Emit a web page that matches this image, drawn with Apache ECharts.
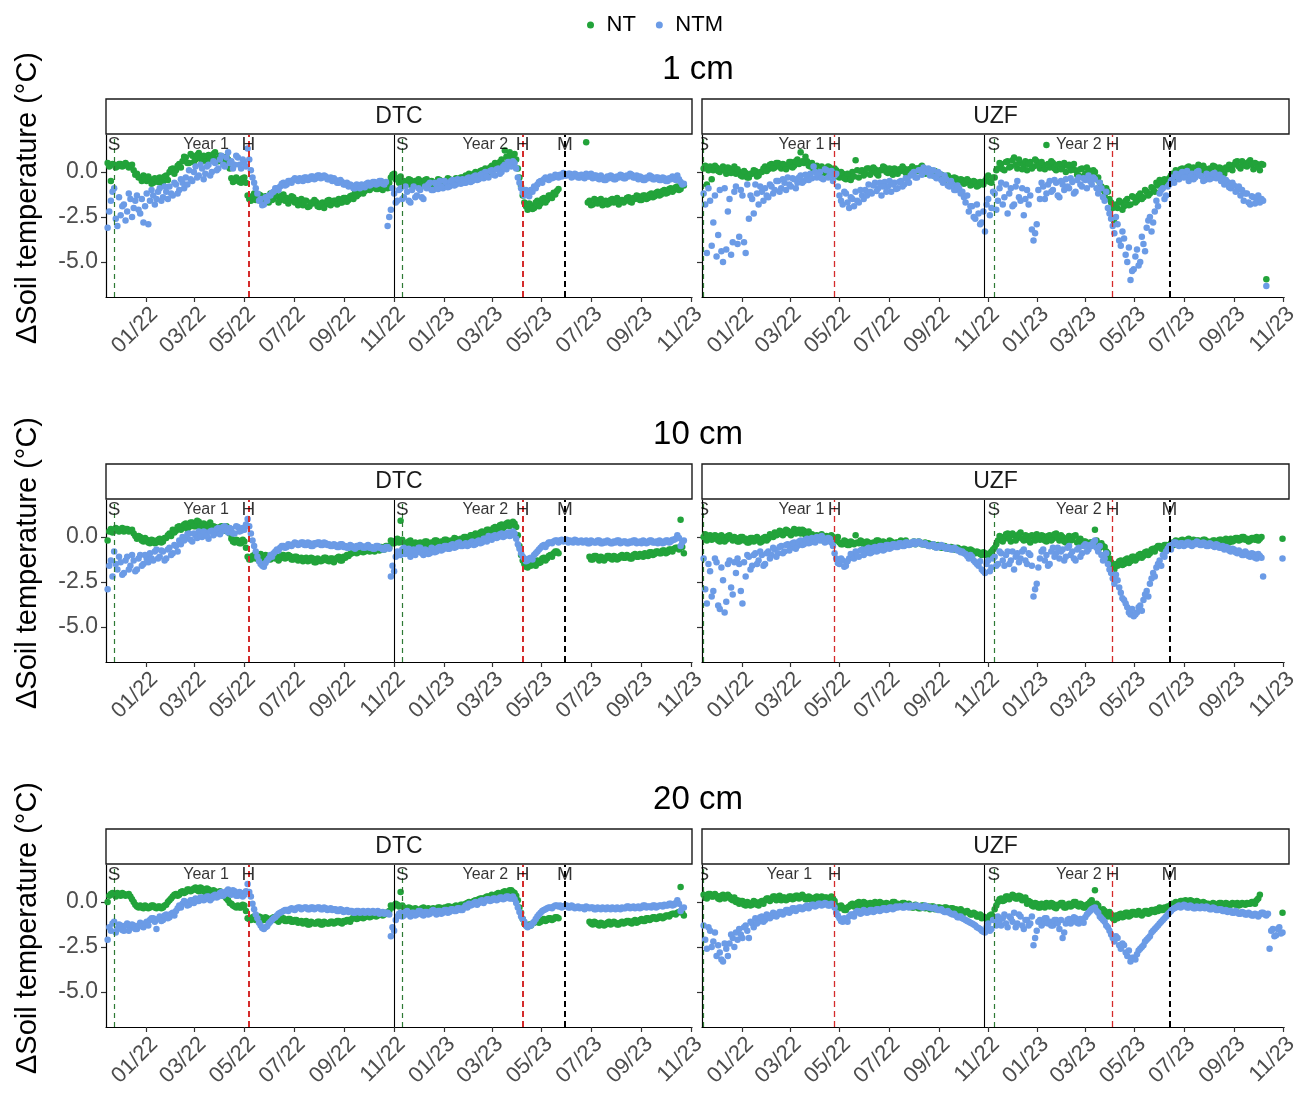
<!DOCTYPE html>
<html>
<head>
<meta charset="utf-8">
<script src="https://cdn.jsdelivr.net/npm/echarts@6/dist/echarts.min.js"></script>
<style>
html,body{margin:0;padding:0;background:#fff;}
#chart{width:1301px;height:1104px;}
</style>
</head>
<body>
<div id="chart"></div>
<script>
// ---------------- DATA ----------------
// Readings every 2 days from 2021-11-14: arrays "A" hold days 0,4,8,... ; arrays "b" hold days 2,6,10,...
const sampleStart = '2021-11-14';
const sampleStepDays = 4;
const depths = ['1 cm', '10 cm', '20 cm'];
const sites = ['DTC', 'UZF'];
const tickMonths = ['2022-01-01','2022-03-01','2022-05-01','2022-07-01','2022-09-01','2022-11-01',
                    '2023-01-01','2023-03-01','2023-05-01','2023-07-01','2023-09-01','2023-11-01'];
const yTicks = [-5.0, -2.5, 0.0];

// DTC 1 cm
const dtc1NT = [0.5,-0.5,0.4,0.3,0.45,0.35,0.4,0.3,0.1,-0.1,
-0.3,-0.2,-0.5,-0.4,-0.6,-0.45,-0.3,-0.55,-0.2,0.0,
0.2,0.1,0.45,0.6,0.8,0.5,0.9,0.7,1.05,0.6,
0.85,0.95,0.7,1.1,0.6,0.8,0.5,0.7,-0.35,-0.5,
-0.4,-0.6,-0.3,-1.3,-1.6,-1.2,-1.45,-1.3,-1.6,-1.4,
-1.2,-1.5,-1.35,-1.55,-1.25,-1.45,-1.6,-1.4,-1.55,-1.7,
-1.85,-1.6,-1.9,-1.75,-1.65,-1.95,-1.7,-1.8,-1.55,-1.75,
-1.6,-1.5,-1.7,-1.45,-1.55,-1.3,-1.15,-1.25,-0.95,-1.05,
-0.8,-0.9,-0.75,-0.95,-0.8,-0.7,-0.9,-0.3,-0.1,-0.35,
-0.25,-0.5,-0.7,-0.45,-0.6,-0.75,-0.5,-0.65,-0.4,-0.7,
-0.55,-0.6,-0.45,-0.7,-0.5,-0.4,-0.6,-0.35,-0.5,-0.3,
-0.2,-0.1,-0.35,0.0,-0.15,0.1,0.2,0.0,0.35,0.5,
0.3,0.7,1.2,0.6,0.9,1.0,0.2,-0.8,-1.7,-2.1,
-1.85,-2.0,-1.6,-1.75,-1.45,-1.55,-1.3,-1.15,-1.05,null,
null,null,null,null,null,null,null,1.65,-1.6,-1.8,
-1.55,-1.7,-1.85,-1.6,-1.75,-1.5,-1.65,-1.8,-1.55,-1.6,
-1.4,-1.7,-1.5,-1.35,-1.55,-1.3,-1.45,-1.2,-1.35,-1.1,
-1.25,-1.0,-1.15,-0.9,-1.0,-0.8,-0.95,-0.75,null,null];
const dtc1NTb = [0.3,0.45,0.25,0.45,0.3,0.5,0.25,0.4,-0.15,-0.3,
-0.5,-0.35,-0.25,-0.65,-0.35,-0.55,-0.6,-0.25,-0.45,0.15,
-0.1,0.35,0.25,0.85,0.5,1.0,0.55,0.95,0.75,0.9,
0.6,0.75,1.0,0.75,0.9,0.55,0.85,0.2,-0.55,-0.3,
-0.55,-0.35,-0.6,-1.5,-1.35,-1.55,-1.25,-1.65,-1.35,-1.7,
-1.55,-1.3,-1.7,-1.3,-1.6,-1.75,-1.35,-1.7,-1.85,-1.5,
-1.6,-1.95,-1.7,-1.55,-1.9,-1.75,-2.0,-1.6,-1.85,-1.6,
-1.8,-1.7,-1.45,-1.65,-1.35,-1.5,-1.35,-1.05,-1.2,-0.85,
-1.0,-0.75,-0.95,-0.7,-1.0,-0.85,-0.6,-0.15,-0.4,-0.6,
-0.5,-0.65,-0.4,-0.75,-0.5,-0.4,-0.7,-0.45,-0.65,-0.5,
-0.7,-0.4,-0.65,-0.5,-0.35,-0.6,-0.45,-0.55,-0.3,-0.45,
-0.35,-0.25,-0.1,-0.3,0.05,-0.1,0.05,0.25,0.2,0.3,
0.55,0.45,0.85,1.1,0.65,0.7,-0.3,-1.3,-1.9,-1.75,
-2.05,-1.7,-1.9,-1.5,-1.7,-1.3,-1.45,-1.25,-0.95,null,
null,null,null,null,null,null,null,-1.7,-1.85,-1.5,
-1.75,-1.5,-1.65,-1.8,-1.55,-1.7,-1.45,-1.6,-1.7,-1.45,
-1.65,-1.45,-1.3,-1.55,-1.3,-1.5,-1.25,-1.4,-1.15,-1.3,
-1.05,-1.2,-0.95,-1.1,-0.85,-1.0,-0.7,null,null,null];
const dtc1NTM = [-3.1,-1.6,-0.9,-3.0,-2.4,-1.8,-2.2,-1.5,-2.0,-1.3,
-2.3,-2.8,-1.2,-1.6,-1.3,-1.5,-0.9,-1.4,-1.1,-0.8,
-1.3,-0.7,-1.0,-0.6,-0.3,0.1,-0.5,0.3,-0.2,0.2,
-0.1,0.4,0.0,0.5,0.2,0.9,0.3,1.1,0.6,0.4,
0.8,0.2,0.5,1.3,0.1,-0.6,-1.2,-1.5,-1.8,-1.6,
-1.3,-1.1,-0.9,-0.8,-0.6,-0.7,-0.5,-0.45,-0.4,-0.35,
-0.5,-0.3,-0.4,-0.25,-0.35,-0.2,-0.3,-0.25,-0.4,-0.5,
-0.45,-0.6,-0.55,-0.7,-0.8,-0.75,-0.9,-0.8,-0.7,-0.85,
-0.6,-0.7,-0.55,-0.65,-0.5,-0.7,-3.0,-2.1,-1.2,-1.6,
-0.9,-1.4,-1.1,-1.7,-0.8,-1.3,-1.0,-1.5,-0.9,-0.6,
-1.0,-0.7,-0.5,-0.9,-0.6,-0.8,-0.45,-0.7,-0.5,-0.4,
-0.6,-0.3,-0.5,-0.2,-0.4,-0.1,0.0,-0.3,0.1,-0.2,
0.2,0.0,0.4,0.55,0.3,0.5,-0.3,-0.9,-1.3,-1.2,
-1.0,-0.8,-0.7,-0.5,-0.4,-0.35,-0.25,-0.3,-0.2,-0.15,
-0.05,-0.2,-0.1,-0.25,-0.15,-0.3,-0.2,-0.1,-0.25,-0.35,
-0.2,-0.4,-0.3,-0.45,-0.35,-0.25,-0.4,-0.3,-0.2,-0.35,
-0.25,-0.15,-0.3,-0.4,-0.3,-0.45,-0.35,-0.25,-0.4,-0.3,
-0.45,-0.35,-0.5,-0.4,-0.3,-0.2,-0.55,-0.65,null,null];
const dtc1NTMb = [-2.2,-1.1,-2.6,-1.4,-1.9,-2.7,-1.2,-2.5,-1.6,-2.1,
-1.5,-1.9,-2.9,-1.0,-1.8,-1.1,-1.6,-0.8,-1.5,-1.2,
-0.6,-1.2,-0.4,-0.9,-0.7,-0.4,0.0,-0.3,0.4,-0.4,
0.3,-0.2,0.6,0.1,0.7,0.4,0.8,0.5,0.2,0.9,
0.4,0.7,0.3,0.7,-0.3,-0.9,-1.6,-1.85,-1.4,-1.3,
-1.15,-0.9,-1.0,-0.65,-0.75,-0.5,-0.6,-0.35,-0.5,-0.45,
-0.3,-0.45,-0.25,-0.4,-0.2,-0.35,-0.2,-0.4,-0.3,-0.35,
-0.6,-0.45,-0.7,-0.6,-0.7,-0.9,-0.7,-0.9,-0.8,-0.65,
-0.75,-0.55,-0.7,-0.5,-0.65,-0.55,-2.5,-0.9,-1.7,-1.0,
-1.5,-0.8,-1.6,-1.0,-1.4,-0.9,-1.4,-0.8,-0.7,-1.0,
-0.6,-0.95,-0.8,-0.5,-0.85,-0.5,-0.75,-0.4,-0.65,-0.6,
-0.35,-0.55,-0.25,-0.45,-0.15,-0.35,-0.25,0.05,-0.15,0.15,
-0.1,0.3,0.15,0.35,0.6,0.2,-0.6,-1.15,-1.0,-1.35,
-1.1,-0.9,-0.55,-0.6,-0.3,-0.45,-0.35,-0.15,-0.3,-0.25,
-0.2,-0.1,-0.3,-0.1,-0.3,-0.15,-0.35,-0.25,-0.1,-0.2,
-0.35,-0.2,-0.45,-0.25,-0.2,-0.4,-0.25,-0.15,-0.35,-0.2,
-0.1,-0.3,-0.2,-0.25,-0.45,-0.3,-0.2,-0.4,-0.3,-0.45,
-0.3,-0.5,-0.35,-0.25,-0.45,-0.4,-0.7,null,null,null];

// UZF 1 cm
const uzf1NT = [0.2,-0.7,0.3,0.1,0.25,0.0,0.3,-0.1,0.2,0.1,
-0.1,0.0,-0.25,-0.05,-0.3,-0.1,0.05,-0.2,0.0,0.3,
0.15,0.45,0.25,0.5,0.2,0.4,0.3,0.55,0.35,0.7,
1.1,0.5,0.6,0.3,0.1,0.35,-0.1,0.2,0.0,0.25,
-0.15,0.1,-0.3,-0.1,-0.4,-0.2,0.0,0.65,-0.3,0.1,
-0.1,0.2,0.0,0.15,-0.2,0.1,0.25,-0.05,0.1,0.2,
-0.1,0.05,0.2,-0.15,0.1,0.0,0.2,0.25,0.1,-0.05,
0.1,-0.2,-0.1,-0.3,-0.25,-0.4,-0.3,-0.5,-0.35,-0.55,
-0.45,-0.6,-0.5,-0.7,-0.55,-0.75,-0.6,-0.5,-0.2,-0.6,
-0.3,0.2,0.45,0.1,0.6,0.3,0.8,0.2,0.5,0.35,
0.1,0.55,0.3,0.6,0.2,0.4,1.5,0.25,0.5,0.1,
0.45,0.3,0.0,0.4,0.2,0.1,-0.2,0.2,-0.1,0.1,
-0.35,0.0,-0.3,-0.8,-1.3,-1.1,-1.7,-2.8,-2.0,-1.7,
-1.9,-1.5,-1.8,-1.4,-1.6,-1.2,-1.4,-1.1,-1.2,-0.9,
-0.6,-0.45,-0.7,-0.5,-0.35,-0.1,0.1,-0.2,0.2,0.0,
0.3,-0.1,0.15,0.4,0.05,0.2,-0.15,0.1,0.3,0.0,
0.2,-0.1,0.15,0.3,0.4,0.6,0.2,0.5,0.3,0.65,
0.15,0.45,0.1,0.4,-5.96,null,null,null,null,null];
const uzf1NTb = [0.35,0.1,-0.4,0.35,0.05,0.2,0.1,0.25,-0.05,0.3,
0.15,-0.2,0.05,-0.3,-0.1,0.1,-0.25,0.0,0.2,0.05,
0.4,0.2,0.5,0.3,0.45,0.15,0.55,0.25,0.6,0.45,
0.6,0.85,0.35,0.5,0.25,0.0,0.3,-0.05,0.3,0.05,
0.2,-0.25,0.0,-0.35,-0.1,-0.45,-0.25,0.1,0.05,-0.2,
0.2,-0.15,0.25,-0.1,0.1,0.3,0.0,0.2,-0.15,0.05,
0.15,0.3,-0.05,0.15,0.3,0.2,0.05,0.35,-0.1,0.15,
-0.1,0.05,-0.3,-0.15,-0.45,-0.2,-0.55,-0.3,-0.6,-0.4,
-0.65,-0.4,-0.75,-0.5,-0.8,-0.55,-0.7,-0.35,-0.55,-0.3,
0.1,0.5,0.15,0.55,0.25,0.65,0.4,0.7,0.15,0.6,
0.45,0.2,0.7,0.35,0.55,0.15,0.45,0.6,0.2,0.4,
0.15,0.5,0.35,0.1,0.45,-0.15,0.15,-0.25,0.25,-0.2,
0.1,-0.4,-0.6,-1.0,-0.9,-1.5,-2.0,-1.8,-1.6,-2.1,
-1.6,-1.85,-1.35,-1.7,-1.3,-1.5,-1.0,-1.3,-0.85,-1.1,
-0.75,-0.6,-0.4,-0.65,-0.2,-0.3,-0.15,0.15,-0.05,0.25,
0.05,0.25,-0.1,0.2,0.35,-0.05,0.2,0.35,-0.05,0.25,
-0.05,0.25,0.4,0.1,0.55,0.3,0.6,0.35,0.55,0.4,
0.5,0.25,0.45,null,null,null,null,null,null,null];
const uzf1NTM = [-1.2,-4.5,-1.6,-2.8,-4.7,-1.0,-5.0,-4.3,-1.5,-3.9,
-0.8,-3.6,-1.3,-4.5,-2.6,-1.5,-0.7,-1.8,-1.1,-0.9,
-1.4,-0.8,-1.0,-0.5,-0.9,-0.6,-0.3,-0.8,-0.4,-0.6,
-0.2,-0.5,-0.3,-0.1,0.3,-0.3,0.0,-0.4,0.1,-0.2,
-0.5,-0.1,-1.3,-1.8,-1.2,-2.0,-1.5,-1.1,-1.7,-1.3,
-1.0,-0.7,-1.2,-0.6,-0.9,-1.3,-0.55,-0.8,-1.1,-0.6,
-0.9,-0.5,-0.7,-0.4,-0.2,0.0,-0.3,0.1,0.25,0.0,
-0.2,0.1,-0.35,-0.1,-0.6,-0.4,-0.8,-0.7,-1.0,-0.9,
-1.1,-1.7,-2.2,-1.9,-2.6,-2.3,-2.8,-3.3,-1.5,-2.0,
-1.2,-1.6,-0.6,-1.4,-2.3,-0.9,-1.8,-0.5,-1.6,-2.4,
-1.0,-1.3,-3.8,-2.9,-1.5,-0.8,-1.2,-0.5,-1.0,-0.6,
-1.4,-0.7,-0.4,-0.9,-0.55,-1.1,-0.3,-0.8,-0.45,-0.2,
-0.7,-0.4,-1.2,-0.9,-1.6,-2.0,-2.6,-3.4,-2.9,-4.1,
-3.7,-5.0,-6.0,-5.4,-4.3,-5.0,-4.0,-3.1,-2.5,-2.8,
-1.6,-1.2,-0.9,-1.3,-0.7,-0.3,-0.1,-0.4,0.0,-0.2,
-0.5,-0.1,-0.3,0.05,-0.25,-0.45,-0.15,-0.35,-0.05,-0.3,
-0.5,-0.7,-0.55,-0.9,-0.75,-1.0,-1.3,-1.6,-1.2,-1.8,
-1.4,-1.5,-1.7,-1.6,-6.33,null,null,null,null,null];
const uzf1NTMb = [-1.8,-0.9,-4.1,-1.3,-3.5,-4.4,-0.9,-2.2,-4.6,-1.1,
-4.0,-1.0,-3.9,-0.7,-1.3,-2.3,-1.2,-0.8,-1.6,-1.3,
-0.7,-1.2,-0.5,-1.1,-0.4,-1.0,-0.7,-0.35,-0.9,-0.3,
-0.6,-0.15,-0.45,-0.35,0.0,-0.15,-0.35,0.15,-0.3,0.05,
-0.2,-0.8,-1.6,-1.1,-1.7,-1.4,-1.9,-1.6,-1.0,-1.5,
-1.3,-1.1,-0.75,-1.05,-0.6,-0.8,-1.1,-0.5,-0.7,-0.95,
-0.55,-0.8,-0.35,-0.6,-0.1,-0.3,0.1,-0.15,0.05,0.2,
0.05,-0.25,0.0,-0.45,-0.2,-0.75,-0.5,-1.0,-0.75,-1.2,
-1.4,-1.3,-1.9,-2.5,-1.8,-2.9,-2.2,-1.8,-2.4,-1.1,
-2.1,-0.9,-1.8,-0.7,-1.2,-1.9,-0.8,-1.4,-0.9,-1.5,
-1.8,-3.2,-3.4,-1.0,-0.6,-1.5,-0.7,-1.1,-0.45,-1.3,
-0.5,-1.0,-0.8,-0.35,-1.2,-0.45,-0.7,-0.35,-0.9,-0.5,
-0.3,-0.9,-0.6,-1.4,-1.1,-2.3,-3.0,-2.5,-3.8,-3.3,
-4.6,-4.2,-5.5,-4.7,-5.2,-3.6,-4.4,-2.7,-3.3,-2.2,
-1.9,-1.0,-1.5,-0.8,-0.5,-0.6,-0.25,-0.1,-0.3,0.05,
-0.25,-0.4,0.0,-0.2,-0.5,-0.1,-0.4,-0.1,-0.35,-0.15,
-0.35,-0.45,-0.85,-0.6,-1.1,-0.8,-1.0,-1.2,-1.7,-1.35,
-1.75,-1.3,-1.5,null,null,null,null,null,null,null];

// DTC 10 cm
const dtc10NT = [-0.2,0.45,0.35,0.45,0.4,0.3,0.45,0.35,0.2,-0.1,
0.0,-0.25,-0.15,-0.35,-0.2,-0.3,-0.1,-0.25,-0.05,0.2,
0.4,0.35,0.6,0.5,0.75,0.55,0.8,0.6,0.85,0.5,
0.7,0.65,0.45,0.55,0.4,0.6,0.35,0.5,-0.1,-0.3,
-0.2,-0.35,-0.25,-1.1,-1.25,-1.0,-1.2,-0.95,-1.15,-1.05,
-1.25,-0.95,-1.1,-1.2,-1.0,-1.15,-1.05,-1.25,-1.1,-1.2,
-1.35,-1.15,-1.3,-1.2,-1.4,-1.25,-1.3,-1.15,-1.35,-1.2,
-1.25,-1.1,-1.3,-1.15,-1.05,-0.9,-0.75,-0.85,-0.65,-0.8,
-0.7,-0.6,-0.8,-0.65,-0.55,-0.7,-0.5,-0.2,-0.35,-0.1,
0.9,-0.3,-0.45,-0.2,-0.4,-0.55,-0.3,-0.45,-0.25,-0.5,
-0.35,-0.2,-0.4,-0.3,-0.15,-0.35,-0.25,-0.1,-0.3,-0.15,
0.0,-0.1,0.1,0.2,0.05,0.3,0.2,0.4,0.35,0.55,
0.45,0.7,0.6,0.8,0.7,0.75,0.1,-1.0,-1.5,-1.7,
-1.6,-1.45,-1.3,-1.4,-1.15,-1.2,-1.0,-0.9,-0.8,null,
null,null,null,null,null,null,null,null,-1.1,-1.25,
-1.05,-1.3,-1.15,-1.2,-1.05,-1.25,-1.1,-1.2,-1.0,-1.15,
-1.05,-1.2,-0.95,-1.1,-1.0,-0.9,-1.05,-0.85,-0.95,-0.8,
-0.9,-0.75,-0.85,-0.7,-0.65,-0.6,0.96,-0.9,null,null];
const dtc10NTb = [0.3,0.25,0.5,0.3,0.5,0.45,0.3,0.4,0.05,0.05,
-0.2,-0.05,-0.3,-0.15,-0.35,-0.15,-0.3,-0.05,0.1,0.05,
0.25,0.55,0.4,0.7,0.45,0.8,0.6,0.9,0.55,0.75,
0.5,0.8,0.6,0.35,0.55,0.45,0.6,0.2,-0.25,-0.15,
-0.35,-0.15,-0.6,-1.25,-1.05,-1.2,-1.0,-1.2,-1.0,-1.2,
-1.05,-1.2,-1.3,-1.0,-1.2,-1.0,-1.25,-1.1,-1.3,-1.15,
-1.2,-1.35,-1.15,-1.4,-1.2,-1.35,-1.15,-1.3,-1.2,-1.4,
-1.15,-1.3,-1.1,-1.0,-0.95,-0.8,-0.9,-0.7,-0.85,-0.65,
-0.8,-0.75,-0.6,-0.75,-0.7,-0.5,-0.6,-0.35,-0.2,-0.3,
-0.15,-0.5,-0.25,-0.45,-0.3,-0.35,-0.5,-0.25,-0.45,-0.3,
-0.2,-0.4,-0.25,-0.15,-0.35,-0.2,-0.05,-0.3,-0.1,0.0,
-0.15,0.1,-0.05,0.05,0.25,0.15,0.4,0.25,0.5,0.4,
0.65,0.5,0.75,0.6,0.85,0.55,-0.5,-1.3,-1.65,-1.5,
-1.45,-1.6,-1.45,-1.2,-1.3,-1.05,-1.1,-0.8,-0.9,null,
null,null,null,null,null,null,null,null,-1.25,-1.05,
-1.2,-1.1,-1.3,-1.05,-1.2,-1.05,-1.25,-1.05,-1.15,-1.0,
-1.2,-1.0,-1.1,-0.95,-1.1,-1.0,-0.85,-1.0,-0.8,-0.9,
-0.75,-0.9,-0.7,-0.8,-0.6,-0.7,-0.55,null,null,null];
const dtc10NTM = [-2.9,-1.3,-0.8,-1.8,-1.4,-2.0,-1.1,-1.6,-1.3,-1.8,
-1.0,-1.5,-1.2,-0.9,-1.3,-0.7,-1.1,-0.8,-1.2,-0.6,
-0.9,-0.5,-0.2,0.0,-0.1,0.2,-0.25,0.1,0.3,0.0,
0.25,-0.1,0.35,0.2,0.5,0.3,0.6,0.25,0.45,0.2,
0.55,0.35,0.4,1.0,0.2,-0.5,-1.1,-1.5,-1.65,-1.3,
-1.0,-0.9,-0.7,-0.6,-0.5,-0.55,-0.45,-0.4,-0.35,-0.4,
-0.3,-0.45,-0.35,-0.5,-0.4,-0.3,-0.45,-0.35,-0.4,-0.5,
-0.45,-0.55,-0.4,-0.5,-0.6,-0.5,-0.65,-0.55,-0.5,-0.6,
-0.45,-0.55,-0.65,-0.5,-0.6,-0.7,-0.55,-2.2,-1.9,-0.8,
-1.0,-0.6,-0.9,-1.1,-0.7,-0.85,-0.6,-1.0,-0.75,-0.9,
-0.65,-0.8,-0.55,-0.7,-0.5,-0.65,-0.4,-0.55,-0.3,-0.5,
-0.35,-0.45,-0.25,-0.4,-0.2,-0.3,-0.1,0.05,-0.15,0.1,
0.0,0.2,0.05,0.25,0.1,0.2,-0.4,-0.9,-1.2,-1.3,
-1.15,-1.0,-0.8,-0.6,-0.45,-0.4,-0.3,-0.25,-0.2,-0.2,
-0.25,-0.15,-0.2,-0.3,-0.2,-0.25,-0.3,-0.2,-0.35,-0.25,
-0.3,-0.2,-0.35,-0.3,-0.25,-0.35,-0.3,-0.2,-0.3,-0.25,
-0.35,-0.3,-0.2,-0.3,-0.35,-0.25,-0.3,-0.2,-0.3,-0.35,
-0.25,-0.3,-0.2,-0.25,-0.15,0.1,-0.5,-0.2,null,null];
const dtc10NTMb = [-1.6,-2.2,-1.5,-1.1,-2.1,-1.3,-1.8,-1.0,-1.9,-1.2,
-1.6,-1.0,-1.4,-1.2,-0.8,-1.2,-0.75,-1.3,-0.7,-1.0,
-0.45,-0.8,-0.4,-0.2,0.15,-0.15,0.2,-0.05,0.1,0.3,
0.05,0.3,0.1,0.45,0.15,0.55,0.35,0.5,0.2,0.6,
0.3,0.5,0.7,0.6,-0.2,-0.8,-1.35,-1.6,-1.45,-1.2,
-1.1,-0.8,-0.75,-0.5,-0.6,-0.4,-0.5,-0.3,-0.45,-0.3,
-0.45,-0.3,-0.5,-0.35,-0.3,-0.45,-0.3,-0.45,-0.5,-0.4,
-0.55,-0.4,-0.55,-0.6,-0.45,-0.6,-0.5,-0.45,-0.6,-0.5,
-0.6,-0.65,-0.5,-0.6,-0.7,-0.55,-0.65,-1.6,-1.1,-1.0,
-0.7,-0.95,-0.65,-0.8,-1.0,-0.6,-0.9,-0.7,-0.95,-0.6,
-0.85,-0.6,-0.75,-0.5,-0.65,-0.45,-0.6,-0.35,-0.5,-0.4,
-0.5,-0.3,-0.45,-0.25,-0.35,-0.1,-0.25,-0.1,0.05,-0.05,
0.15,0.0,0.2,0.05,0.3,-0.1,-0.65,-1.1,-1.35,-1.2,
-1.25,-0.9,-0.7,-0.5,-0.55,-0.3,-0.35,-0.2,-0.3,-0.15,
-0.2,-0.3,-0.25,-0.15,-0.3,-0.2,-0.25,-0.35,-0.2,-0.3,
-0.2,-0.35,-0.25,-0.2,-0.35,-0.25,-0.2,-0.35,-0.25,-0.35,
-0.25,-0.2,-0.35,-0.25,-0.2,-0.35,-0.2,-0.3,-0.25,-0.2,
-0.35,-0.2,-0.3,-0.15,-0.1,-0.05,-0.3,null,null,null];

// UZF 10 cm
const uzf10NT = [0.0,-0.2,0.1,-0.1,0.05,-0.25,0.0,-0.15,0.1,-0.2,
-0.05,-0.25,0.0,-0.1,-0.3,-0.05,-0.2,-0.1,-0.25,0.0,
-0.1,0.1,0.25,0.15,0.3,0.2,0.35,0.1,0.45,0.3,
0.2,0.35,0.15,0.0,-0.15,0.1,-0.05,-0.2,0.05,-0.1,
0.0,-0.2,-0.3,-0.4,-0.25,-0.45,-0.3,0.1,-0.35,-0.25,
-0.4,-0.3,-0.45,-0.35,-0.2,-0.4,-0.3,-0.35,-0.25,-0.4,
-0.3,-0.2,-0.35,-0.3,-0.4,-0.25,-0.35,-0.3,-0.4,-0.45,
-0.5,-0.4,-0.55,-0.5,-0.6,-0.55,-0.65,-0.6,-0.7,-0.65,
-0.75,-0.7,-0.8,-0.75,-0.9,-0.85,-1.0,-0.9,-1.05,-0.8,
-0.6,-0.2,0.0,-0.1,0.2,-0.25,0.1,-0.05,0.25,-0.2,
0.05,-0.3,0.0,0.15,-0.15,0.05,-0.25,0.1,-0.1,0.2,
-0.2,0.0,-0.3,0.05,-0.15,0.1,-0.2,-0.4,-0.25,-0.5,
-0.3,0.4,-0.45,-0.35,-0.55,-0.9,-1.4,-1.8,-1.6,-1.3,
-1.5,-1.2,-1.35,-1.1,-1.2,-0.95,-1.05,-0.8,-0.9,-0.65,
-0.6,-0.5,-0.65,-0.45,-0.55,-0.3,-0.2,-0.35,-0.15,-0.3,
-0.1,-0.25,-0.35,-0.2,-0.3,-0.15,-0.25,-0.35,-0.2,-0.3,
-0.15,-0.25,-0.2,-0.1,-0.2,-0.05,-0.15,0.0,-0.1,-0.2,
-0.05,0.0,-0.1,null,null,null,null,null,null,-0.1];
const uzf10NTb = [0.15,0.05,-0.15,0.1,-0.2,0.1,-0.25,0.05,-0.1,0.0,
-0.25,0.0,-0.2,-0.3,-0.05,-0.25,0.0,-0.3,-0.05,-0.2,
0.15,0.0,0.1,0.35,0.1,0.4,0.2,0.3,0.2,0.4,
0.4,0.1,0.3,0.15,0.05,-0.15,0.15,0.0,-0.15,0.1,
-0.15,0.0,-0.4,-0.2,-0.45,-0.25,-0.4,-0.3,-0.2,-0.4,
-0.25,-0.45,-0.3,-0.2,-0.4,-0.25,-0.4,-0.2,-0.4,-0.3,
-0.4,-0.35,-0.2,-0.4,-0.3,-0.4,-0.25,-0.4,-0.3,-0.35,
-0.4,-0.55,-0.45,-0.6,-0.5,-0.65,-0.55,-0.7,-0.6,-0.75,
-0.65,-0.8,-0.7,-0.85,-0.8,-0.95,-0.85,-1.0,-0.9,-0.7,
-0.4,0.05,-0.25,0.15,-0.1,0.2,-0.2,0.15,-0.1,0.1,
-0.2,0.1,-0.2,-0.05,0.1,-0.2,0.05,-0.2,0.15,-0.05,
0.1,-0.25,-0.05,-0.2,0.05,-0.3,-0.1,-0.25,-0.45,-0.3,
-0.45,-0.2,-0.6,-0.5,-0.8,-1.2,-1.6,-1.5,-1.35,-1.55,
-1.25,-1.45,-1.1,-1.3,-1.0,-1.15,-0.85,-1.0,-0.7,-0.8,
-0.5,-0.65,-0.45,-0.6,-0.35,-0.45,-0.35,-0.2,-0.3,-0.15,
-0.3,-0.15,-0.2,-0.35,-0.15,-0.3,-0.35,-0.2,-0.35,-0.15,
-0.3,-0.1,-0.3,-0.25,-0.05,-0.2,0.0,-0.15,-0.25,-0.05,
-0.15,-0.2,0.0,null,null,null,null,null,null,null];
const uzf10NTM = [-1.2,-3.7,-1.9,-3.0,-1.4,-4.0,-2.4,-3.6,-1.3,-3.2,
-2.0,-1.5,-3.7,-2.2,-1.1,-1.6,-0.9,-1.3,-1.0,-1.5,
-0.8,-1.0,-0.7,-0.9,-0.5,-0.8,-0.4,-0.6,-0.3,-0.5,
-0.2,-0.4,-0.1,-0.3,-0.15,0.0,-0.2,-0.05,-0.25,-0.1,
-0.5,-1.2,-1.5,-1.3,-1.6,-1.2,-1.0,-0.8,-1.1,-0.7,
-0.9,-0.6,-0.85,-0.55,-0.75,-0.5,-0.7,-0.45,-0.6,-0.4,
-0.55,-0.35,-0.5,-0.3,-0.4,-0.25,-0.35,-0.3,-0.4,-0.45,
-0.5,-0.4,-0.6,-0.55,-0.5,-0.65,-0.6,-0.7,-0.65,-0.75,
-0.8,-0.95,-1.2,-1.1,-1.4,-1.6,-1.8,-2.0,-1.3,-1.7,
-1.1,-1.5,-0.9,-1.6,-0.8,-1.3,-1.8,-0.9,-1.2,-0.7,
-1.5,-1.0,-3.3,-2.6,-1.2,-0.7,-1.0,-1.5,-0.6,-0.9,
-1.2,-0.7,-1.1,-0.5,-0.8,-1.3,-0.6,-0.9,-0.4,-0.7,
-0.5,-0.2,-0.8,-1.0,-1.2,-1.5,-2.0,-2.6,-2.4,-3.1,
-3.5,-3.9,-4.3,-4.4,-4.2,-3.8,-3.5,-3.0,-2.6,-2.0,
-1.7,-1.3,-1.0,-0.8,-0.5,-0.4,-0.3,-0.5,-0.35,-0.45,
-0.3,-0.5,-0.4,-0.3,-0.45,-0.35,-0.5,-0.4,-0.55,-0.45,
-0.6,-0.7,-0.6,-0.8,-0.7,-0.9,-0.85,-1.0,-0.9,-1.1,
-0.95,-1.2,-1.05,-2.2,null,null,null,null,null,-1.2];
const uzf10NTMb = [-2.9,-1.5,-3.3,-1.2,-3.8,-1.7,-4.2,-1.5,-2.8,-1.4,
-1.2,-3.0,-1.4,-1.0,-1.8,-1.0,-1.5,-0.8,-1.6,-0.9,
-1.2,-0.6,-1.1,-0.55,-0.9,-0.45,-0.75,-0.35,-0.65,-0.25,
-0.45,-0.15,-0.35,-0.05,-0.3,-0.15,0.05,-0.3,-0.05,-0.3,
-0.9,-1.45,-1.2,-1.65,-1.35,-0.95,-1.2,-1.05,-0.75,-1.0,
-0.65,-0.9,-0.6,-0.8,-0.5,-0.75,-0.45,-0.65,-0.4,-0.55,
-0.35,-0.5,-0.3,-0.45,-0.3,-0.4,-0.25,-0.4,-0.35,-0.5,
-0.45,-0.55,-0.5,-0.45,-0.6,-0.55,-0.7,-0.6,-0.75,-0.85,
-0.9,-1.05,-1.0,-1.3,-1.5,-1.35,-1.9,-1.5,-1.9,-1.2,
-1.6,-0.8,-1.3,-1.0,-1.5,-0.8,-1.1,-1.4,-0.8,-1.3,
-0.9,-1.6,-2.9,-1.7,-0.8,-1.3,-1.6,-0.8,-1.1,-0.6,
-0.8,-1.3,-0.6,-1.0,-1.2,-0.7,-1.1,-0.5,-0.8,-0.45,
-0.3,-0.6,-0.5,-1.3,-0.9,-1.8,-2.3,-2.1,-2.8,-3.4,
-3.7,-4.2,-4.0,-4.3,-3.9,-4.1,-3.2,-3.3,-2.3,-2.2,
-1.5,-1.6,-1.1,-0.65,-0.7,-0.3,-0.45,-0.35,-0.5,-0.3,
-0.45,-0.35,-0.25,-0.45,-0.3,-0.5,-0.35,-0.5,-0.4,-0.6,
-0.5,-0.55,-0.75,-0.65,-0.85,-0.75,-1.0,-0.8,-1.05,-0.9,
-1.15,-0.95,-1.15,null,null,null,null,null,null,null];

// DTC 20 cm
const dtc20NT = [0.0,0.45,0.4,0.5,0.35,0.45,0.4,0.3,0.0,-0.25,
-0.2,-0.35,-0.25,-0.3,-0.2,-0.35,-0.25,-0.3,-0.15,0.1,
0.3,0.45,0.4,0.6,0.55,0.7,0.65,0.8,0.6,0.75,
0.55,0.7,0.5,0.6,0.45,0.5,0.3,0.1,-0.1,-0.25,
-0.2,-0.3,-0.2,-0.9,-1.0,-0.8,-0.95,-0.85,-1.0,-0.9,
-1.05,-0.85,-0.95,-1.0,-0.9,-1.05,-0.95,-1.1,-1.0,-1.1,
-1.2,-1.05,-1.25,-1.15,-1.2,-1.1,-1.25,-1.15,-1.2,-1.1,
-1.15,-1.05,-1.2,-1.1,-1.0,-0.95,-0.85,-0.9,-0.8,-0.85,
-0.75,-0.8,-0.7,-0.75,-0.65,-0.7,-0.6,-0.2,-0.2,-0.15,
0.55,-0.3,-0.45,-0.35,-0.5,-0.4,-0.55,-0.3,-0.45,-0.5,
-0.35,-0.45,-0.3,-0.4,-0.35,-0.25,-0.4,-0.2,-0.3,-0.15,
-0.1,0.0,-0.05,0.1,0.15,0.2,0.25,0.3,0.4,0.35,
0.5,0.45,0.6,0.55,0.65,0.5,0.1,-0.6,-1.2,-1.35,
-1.3,-1.15,-1.05,-1.1,-0.95,-1.0,-0.9,-0.95,-0.85,null,
null,null,null,null,null,null,null,null,-1.1,-1.25,
-1.15,-1.3,-1.2,-1.25,-1.1,-1.2,-1.15,-1.25,-1.1,-1.15,
-1.05,-1.2,-1.0,-1.1,-0.95,-1.05,-0.9,-0.95,-0.85,-0.9,
-0.8,-0.85,-0.75,-0.7,-0.65,-0.6,0.83,-0.75,null,null];
const dtc20NTb = [0.35,0.5,0.3,0.4,0.5,0.35,0.45,0.15,-0.15,-0.3,
-0.3,-0.2,-0.35,-0.2,-0.3,-0.25,-0.35,-0.2,0.0,0.2,
0.4,0.35,0.55,0.5,0.7,0.6,0.75,0.65,0.8,0.6,
0.75,0.55,0.65,0.45,0.6,0.35,0.2,-0.05,-0.2,-0.3,
-0.3,-0.15,-0.5,-0.95,-0.85,-1.0,-0.8,-1.0,-0.85,-1.05,
-0.9,-1.0,-1.1,-0.9,-1.05,-0.95,-1.1,-1.0,-1.15,-1.05,
-1.1,-1.25,-1.1,-1.2,-1.1,-1.25,-1.1,-1.2,-1.1,-1.2,
-1.05,-1.15,-1.05,-1.0,-1.1,-0.85,-0.95,-0.8,-0.9,-0.75,
-0.85,-0.7,-0.8,-0.65,-0.75,-0.6,-0.5,-0.3,-0.1,-0.25,
-0.2,-0.45,-0.3,-0.5,-0.35,-0.5,-0.35,-0.45,-0.35,-0.4,
-0.45,-0.3,-0.4,-0.3,-0.25,-0.4,-0.25,-0.3,-0.15,-0.2,
-0.05,-0.1,0.05,0.0,0.2,0.15,0.3,0.25,0.3,0.45,
0.4,0.55,0.5,0.65,0.55,0.35,-0.3,-0.95,-1.3,-1.25,
-1.2,-1.05,-1.15,-1.0,-1.05,-0.9,-1.0,-0.85,-0.9,null,
null,null,null,null,null,null,null,null,-1.2,-1.1,
-1.25,-1.15,-1.3,-1.15,-1.25,-1.1,-1.25,-1.15,-1.2,-1.05,
-1.15,-1.05,-1.15,-1.0,-1.05,-0.9,-1.0,-0.85,-0.95,-0.8,
-0.9,-0.75,-0.8,-0.65,-0.7,-0.55,-0.6,null,null,null];
const dtc20NTM = [-2.1,-1.6,-1.1,-1.5,-1.3,-1.6,-1.2,-1.45,-1.3,-1.5,
-1.15,-1.4,-1.1,-1.0,-0.9,-1.5,-0.8,-1.0,-0.7,-0.85,
-0.6,-0.5,-0.2,-0.1,0.0,-0.15,0.1,0.2,0.05,0.25,
0.15,0.3,0.2,0.4,0.3,0.55,0.45,0.7,0.4,0.6,
0.35,0.5,0.4,1.0,0.3,-0.4,-0.9,-1.3,-1.5,-1.35,
-1.1,-0.9,-0.75,-0.6,-0.5,-0.45,-0.4,-0.4,-0.35,-0.3,
-0.35,-0.3,-0.4,-0.3,-0.35,-0.3,-0.4,-0.35,-0.4,-0.45,
-0.4,-0.5,-0.45,-0.5,-0.55,-0.5,-0.6,-0.5,-0.55,-0.6,
-0.5,-0.55,-0.6,-0.5,-0.6,-0.65,-0.6,-1.9,-1.6,-0.8,
-0.6,-0.75,-0.5,-0.8,-0.6,-0.7,-0.5,-0.75,-0.55,-0.65,
-0.45,-0.7,-0.5,-0.6,-0.45,-0.55,-0.4,-0.5,-0.35,-0.45,
-0.2,-0.1,-0.15,0.0,-0.05,0.1,0.05,0.15,0.1,0.2,
0.15,0.25,0.2,0.3,0.2,0.15,-0.3,-0.8,-1.1,-1.4,
-1.3,-1.1,-0.8,-0.6,-0.45,-0.35,-0.3,-0.25,-0.2,-0.2,
-0.25,-0.2,-0.3,-0.25,-0.3,-0.35,-0.3,-0.25,-0.35,-0.3,
-0.4,-0.35,-0.3,-0.4,-0.35,-0.3,-0.4,-0.35,-0.3,-0.35,
-0.25,-0.3,-0.35,-0.25,-0.3,-0.2,-0.25,-0.3,-0.2,-0.25,
-0.2,-0.15,-0.2,-0.1,-0.15,0.1,-0.5,-0.3,null,null];
const dtc20NTMb = [-1.4,-1.2,-1.7,-1.25,-1.55,-1.3,-1.6,-1.25,-1.5,-1.3,
-1.35,-1.2,-1.3,-0.9,-1.1,-0.95,-1.05,-0.75,-0.9,-0.65,
-0.75,-0.35,-0.3,0.05,-0.2,0.1,-0.05,0.05,0.25,0.1,
0.3,0.1,0.35,0.25,0.5,0.35,0.6,0.45,0.65,0.35,
0.55,0.3,0.6,0.55,-0.1,-0.7,-1.15,-1.45,-1.4,-1.2,
-1.0,-0.85,-0.65,-0.55,-0.45,-0.5,-0.35,-0.45,-0.3,-0.4,
-0.3,-0.4,-0.3,-0.4,-0.3,-0.4,-0.3,-0.45,-0.35,-0.4,
-0.5,-0.4,-0.55,-0.45,-0.5,-0.6,-0.5,-0.6,-0.5,-0.55,
-0.6,-0.5,-0.55,-0.65,-0.55,-0.6,-0.7,-1.4,-1.0,-0.65,
-0.8,-0.55,-0.7,-0.6,-0.75,-0.5,-0.7,-0.55,-0.7,-0.5,
-0.6,-0.5,-0.65,-0.45,-0.6,-0.4,-0.5,-0.35,-0.45,-0.3,
-0.3,-0.2,-0.05,-0.15,0.05,-0.05,0.15,0.05,0.2,0.1,
0.25,0.15,0.3,0.2,0.3,-0.05,-0.55,-0.95,-1.3,-1.3,
-1.2,-0.95,-0.7,-0.5,-0.4,-0.3,-0.35,-0.2,-0.25,-0.3,
-0.2,-0.3,-0.2,-0.35,-0.25,-0.3,-0.4,-0.3,-0.3,-0.4,
-0.3,-0.4,-0.35,-0.3,-0.4,-0.35,-0.3,-0.4,-0.35,-0.25,
-0.35,-0.25,-0.3,-0.35,-0.2,-0.3,-0.25,-0.2,-0.3,-0.2,
-0.25,-0.2,-0.1,-0.2,-0.05,-0.1,-0.35,null,null,null];

// UZF 20 cm
const uzf20NT = [0.4,0.2,0.45,0.3,0.35,0.15,0.4,0.25,0.3,0.1,
0.0,-0.1,0.05,-0.2,-0.05,-0.15,0.0,-0.2,0.05,0.1,
0.2,0.15,0.3,0.2,0.1,0.25,0.15,0.3,0.2,0.35,
0.25,0.3,0.15,0.25,0.1,0.3,0.2,0.15,0.25,0.1,
0.2,-0.2,-0.35,-0.3,-0.45,-0.25,-0.1,-0.2,0.0,-0.15,
-0.05,-0.2,-0.1,0.0,-0.15,-0.05,-0.2,-0.1,-0.15,0.0,
-0.1,-0.2,-0.05,-0.15,-0.2,-0.3,-0.25,-0.35,-0.2,-0.3,
-0.4,-0.25,-0.35,-0.3,-0.4,-0.3,-0.45,-0.35,-0.4,-0.45,
-0.5,-0.55,-0.6,-0.7,-0.65,-0.8,-0.9,-0.85,-0.9,-0.7,
-0.4,0.0,0.2,0.1,0.3,0.25,0.35,0.2,0.3,0.15,
-0.1,0.0,-0.25,-0.1,-0.3,-0.15,-0.05,-0.25,-0.1,-0.35,
-0.2,-0.05,-0.3,-0.1,-0.2,0.0,-0.25,-0.15,-0.3,-0.1,
0.1,0.65,-0.2,-0.6,-0.5,-0.8,-0.7,-1.0,-0.9,-0.65,
-0.8,-0.6,-0.75,-0.55,-0.7,-0.6,-0.65,-0.5,-0.6,-0.45,
-0.4,-0.3,-0.45,-0.35,-0.25,-0.1,0.0,-0.15,0.05,0.1,
-0.05,0.05,-0.1,0.0,-0.15,-0.05,-0.1,-0.2,-0.1,-0.15,
-0.05,-0.2,-0.1,-0.15,-0.1,-0.05,-0.15,-0.1,-0.05,-0.1,
0.0,0.1,0.4,null,null,null,null,null,null,-0.6];
const uzf20NTb = [0.25,0.45,0.3,0.45,0.2,0.35,0.2,0.4,0.15,0.25,
0.1,0.05,-0.15,0.0,-0.2,0.05,-0.15,0.0,-0.1,0.2,
0.05,0.3,0.1,0.35,0.25,0.1,0.3,0.15,0.35,0.2,
0.4,0.15,0.3,0.1,0.25,0.15,0.3,0.25,0.1,0.3,
0.05,-0.3,-0.2,-0.45,-0.3,-0.15,-0.25,-0.05,-0.2,0.0,
-0.2,-0.05,-0.2,-0.15,0.0,-0.2,-0.05,-0.2,0.0,-0.15,
-0.2,-0.05,-0.2,-0.1,-0.3,-0.15,-0.35,-0.2,-0.35,-0.25,
-0.25,-0.4,-0.3,-0.4,-0.3,-0.45,-0.35,-0.45,-0.5,-0.4,
-0.6,-0.5,-0.7,-0.6,-0.8,-0.7,-0.8,-0.95,-0.75,-0.8,
-0.2,0.15,0.05,0.3,0.15,0.4,0.2,0.35,0.1,0.25,
0.05,-0.2,-0.05,-0.3,-0.1,-0.3,-0.2,-0.05,-0.3,-0.15,
-0.05,-0.3,-0.15,-0.25,0.0,-0.2,-0.1,-0.3,-0.15,0.0,
-0.2,-0.1,-0.45,-0.4,-0.75,-0.55,-0.9,-0.75,-0.7,-0.85,
-0.6,-0.8,-0.55,-0.7,-0.5,-0.75,-0.5,-0.65,-0.45,-0.55,
-0.5,-0.45,-0.3,-0.25,-0.15,-0.25,-0.1,0.05,-0.05,-0.05,
0.1,-0.1,0.05,-0.15,0.0,-0.15,-0.2,-0.05,-0.2,-0.05,
-0.2,-0.05,-0.2,-0.05,-0.15,-0.2,-0.05,-0.15,-0.1,0.0,
-0.1,0.2,null,null,null,null,null,null,null,null];
const uzf20NTM = [-1.3,-2.6,-1.6,-2.2,-3.0,-2.8,-3.3,-2.6,-2.3,-2.0,
-1.7,-1.5,-2.0,-1.3,-2.0,-1.2,-0.9,-1.1,-0.8,-1.0,
-0.75,-0.8,-0.65,-0.7,-0.55,-0.6,-0.45,-0.5,-0.35,-0.4,
-0.3,-0.35,-0.2,-0.25,-0.15,-0.2,-0.1,-0.15,-0.1,-0.2,
-0.15,-0.6,-0.9,-1.1,-0.95,-0.8,-0.7,-0.6,-0.55,-0.6,
-0.5,-0.55,-0.45,-0.5,-0.4,-0.45,-0.35,-0.4,-0.3,-0.35,
-0.3,-0.25,-0.3,-0.25,-0.2,-0.25,-0.2,-0.25,-0.3,-0.25,
-0.3,-0.35,-0.4,-0.45,-0.5,-0.55,-0.6,-0.7,-0.75,-0.85,
-0.9,-1.0,-1.1,-1.2,-1.3,-1.45,-1.6,-1.7,-1.2,-1.5,
-1.0,-0.8,-1.3,-0.7,-1.4,-0.9,-0.6,-1.2,-0.8,-1.5,
-1.0,-1.2,-2.4,-1.6,-1.0,-1.2,-0.9,-1.1,-1.3,-1.0,
-1.5,-2.0,-1.2,-0.95,-1.1,-0.9,-1.2,-1.0,-0.85,-0.6,
-0.4,-0.3,-0.6,-0.9,-1.1,-1.4,-1.8,-2.2,-2.0,-2.6,
-2.4,-3.0,-3.3,-3.1,-2.9,-2.6,-2.4,-2.1,-1.9,-1.6,
-1.4,-1.2,-1.0,-0.8,-0.6,-0.4,-0.3,-0.2,-0.25,-0.2,
-0.3,-0.25,-0.35,-0.3,-0.25,-0.35,-0.3,-0.4,-0.35,-0.45,
-0.4,-0.5,-0.55,-0.5,-0.6,-0.55,-0.65,-0.6,-0.7,-0.65,
-0.75,-0.7,-0.7,-0.6,-0.75,-2.6,-1.5,-1.85,-1.4,-1.7];
const uzf20NTMb = [-2.1,-1.4,-2.5,-1.7,-2.4,-3.2,-2.3,-3.0,-1.8,-2.5,
-2.1,-1.8,-1.4,-1.6,-1.1,-1.4,-1.2,-0.85,-1.1,-0.7,
-0.9,-0.6,-0.8,-0.55,-0.7,-0.45,-0.6,-0.35,-0.5,-0.3,
-0.4,-0.25,-0.35,-0.15,-0.25,-0.1,-0.2,-0.05,-0.2,-0.1,
-0.3,-0.75,-1.05,-0.9,-1.1,-0.7,-0.8,-0.5,-0.65,-0.45,
-0.6,-0.45,-0.55,-0.4,-0.5,-0.35,-0.45,-0.3,-0.4,-0.25,
-0.25,-0.3,-0.2,-0.3,-0.25,-0.2,-0.25,-0.3,-0.2,-0.3,
-0.35,-0.3,-0.45,-0.4,-0.55,-0.5,-0.65,-0.65,-0.85,-0.8,
-0.95,-1.05,-1.15,-1.25,-1.4,-1.5,-1.65,-1.4,-1.6,-1.0,
-1.3,-1.1,-0.9,-1.2,-0.8,-1.1,-1.4,-0.7,-1.3,-1.0,
-1.3,-0.8,-2.0,-1.1,-1.3,-0.9,-1.2,-1.3,-1.0,-1.2,
-1.0,-1.7,-1.0,-1.2,-0.85,-1.15,-0.95,-1.15,-0.7,-0.5,
-0.35,-0.5,-0.8,-1.0,-1.3,-1.6,-2.0,-1.9,-2.4,-2.3,
-2.8,-2.7,-3.1,-3.2,-2.7,-2.5,-2.2,-2.0,-1.7,-1.5,
-1.3,-1.1,-0.9,-0.7,-0.5,-0.35,-0.25,-0.3,-0.15,-0.3,
-0.2,-0.35,-0.25,-0.35,-0.3,-0.25,-0.4,-0.3,-0.45,-0.4,
-0.5,-0.45,-0.5,-0.6,-0.5,-0.65,-0.55,-0.7,-0.6,-0.75,
-0.65,-0.8,-0.6,-0.7,-0.65,-1.6,-1.9,-1.5,-1.75,null];

// Management events
const dtcSowing = ['2021-11-22', '2022-11-11'];
const dtcHarvest = ['2022-05-06', '2023-04-08'];
const dtcMaize = ['2023-05-30'];
const dtcYearBreak = ['2022-11-01'];
const uzfSowing = ['2021-11-13', '2022-11-08'];
const uzfHarvest = ['2022-04-25', '2023-04-04'];
const uzfMaize = ['2023-06-13'];
const uzfYearBreak = ['2022-10-27'];
const yearLabels = ['Year 1', 'Year 2'];
const dtcYearLabelDates = ['2022-03-15', '2023-02-21'];
const uzfYearLabelDates = ['2022-03-15', '2023-02-21'];
const uzf20YearLabelDates = ['2022-02-28', '2023-02-21'];

// ---------------- CHART ----------------
const FONT = '"Liberation Sans", Arial, sans-serif';
const GREEN = '#22a33a';
const BLUE = '#6b9be6';
const DAY0 = [2022, 0, 1];
function dayNum(s) {
  const p = s.split('-').map(Number);
  return Math.round((Date.UTC(p[0], p[1] - 1, p[2]) - Date.UTC(DAY0[0], DAY0[1], DAY0[2])) / 864e5);
}
const startDay = dayNum(sampleStart);
function pts(valsA, valsB) {
  const out = [];
  valsA.forEach((v, i) => { if (v !== null && v !== undefined) out.push([startDay + sampleStepDays * i, v]); });
  valsB.forEach((v, i) => { if (v !== null && v !== undefined) out.push([startDay + sampleStepDays * i + sampleStepDays / 2, v]); });
  return out;
}
const tickDays = tickMonths.map(dayNum);
const xMin = dayNum('2021-11-12'), xMax = dayNum('2023-11-02');
const yMin = -6.944, yMax = 2.056;
function fmtMonth(v) {
  const d = new Date(Date.UTC(DAY0[0], DAY0[1], DAY0[2] + Math.round(v)));
  return String(d.getUTCMonth() + 1).padStart(2, '0') + '/' + String(d.getUTCFullYear() % 100).padStart(2, '0');
}

const panelData = [
  [dtc1NT, dtc1NTb, dtc1NTM, dtc1NTMb], [uzf1NT, uzf1NTb, uzf1NTM, uzf1NTMb],
  [dtc10NT, dtc10NTb, dtc10NTM, dtc10NTMb], [uzf10NT, uzf10NTb, uzf10NTM, uzf10NTMb],
  [dtc20NT, dtc20NTb, dtc20NTM, dtc20NTMb], [uzf20NT, uzf20NTb, uzf20NTM, uzf20NTMb]
];
const events = {
  DTC: { S: dtcSowing, H: dtcHarvest, M: dtcMaize, B: dtcYearBreak },
  UZF: { S: uzfSowing, H: uzfHarvest, M: uzfMaize, B: uzfYearBreak }
};

const ROW_STEP = 365;
const grid = [], xAxis = [], yAxis = [], series = [], graphic = [];
for (let r = 0; r < 3; r++) {
  for (let c = 0; c < 2; c++) {
    const k = r * 2 + c;
    const left = c === 0 ? 106 : 702;
    const width = c === 0 ? 586 : 587;
    const top = 135 + ROW_STEP * r;
    grid.push({ left: left, top: top, width: width, height: 162 });
    xAxis.push({
      gridIndex: k, type: 'value', min: xMin, max: xMax,
      axisLine: { show: true, onZero: false, lineStyle: { color: '#000', width: 1.2 } },
      axisTick: { show: true, customValues: tickDays, length: 5, lineStyle: { color: '#333', width: 1.2 } },
      axisLabel: {
        customValues: tickDays, rotate: 45, margin: 6, fontSize: 22, color: '#4d4d4d', fontFamily: FONT,
        align: 'right', verticalAlign: 'top', formatter: fmtMonth
      },
      splitLine: { show: false }
    });
    yAxis.push({
      gridIndex: k, type: 'value', min: yMin, max: yMax,
      axisLine: { show: true, onZero: false, lineStyle: { color: '#000', width: 1.2 } },
      axisTick: { show: true, customValues: yTicks, length: 5, lineStyle: { color: '#333', width: 1.2 } },
      axisLabel: { show: c === 0, customValues: yTicks, margin: 8, fontSize: 23, color: '#4d4d4d', fontFamily: FONT,
        formatter: function (v) { return Number(v).toFixed(1); } },
      splitLine: { show: false }
    });
    series.push({ name: 'NT', type: 'scatter', xAxisIndex: k, yAxisIndex: k, data: pts(panelData[k][0], panelData[k][1]),
      symbolSize: 6.5, itemStyle: { color: GREEN, opacity: 1 }, z: 2 });
    series.push({ name: 'NTM', type: 'scatter', xAxisIndex: k, yAxisIndex: k, data: pts(panelData[k][2], panelData[k][3]),
      symbolSize: 6.5, itemStyle: { color: BLUE, opacity: 1 }, z: 3 });

    const site = sites[c];
    const ev = events[site];
    const isDTC = c === 0;
    const mlData = [];
    ev.B.forEach(d => mlData.push({ xAxis: dayNum(d), lineStyle: { color: '#000', width: 1.1, type: 'solid' } }));
    ev.S.forEach(d => mlData.push({ xAxis: dayNum(d), lineStyle: { color: '#2e7a34', width: 1.2, type: [5, 4] } }));
    ev.H.forEach(d => mlData.push({ xAxis: dayNum(d), lineStyle: { color: '#d42b2b', width: isDTC ? 2 : 1.3, type: [6, 4] } }));
    ev.M.forEach(d => mlData.push({ xAxis: dayNum(d), lineStyle: { color: '#000', width: 2, type: [6, 4] } }));

    const yl = site === 'DTC' ? dtcYearLabelDates : (r === 2 ? uzf20YearLabelDates : uzfYearLabelDates);
    const lab = [];
    const bigLabel = { show: true, position: 'inside', formatter: '{b}', fontSize: 19, color: '#000', fontFamily: FONT };
    const smallLabel = { show: true, position: 'inside', formatter: '{b}', fontSize: 16, color: '#000', fontFamily: FONT };
    ev.S.forEach(d => lab.push({ name: 'S', value: [dayNum(d), 1.5], label: bigLabel }));
    ev.H.forEach(d => lab.push({ name: 'H', value: [dayNum(d), 1.5], label: bigLabel }));
    ev.M.forEach(d => lab.push({ name: 'M', value: [dayNum(d), 1.5], label: bigLabel }));
    yl.forEach((d, j) => lab.push({ name: yearLabels[j], value: [dayNum(d), 1.5], label: smallLabel }));
    series.push({
      name: 'events', type: 'scatter', xAxisIndex: k, yAxisIndex: k, silent: true, z: 5,
      symbolSize: 1, itemStyle: { color: 'rgba(0,0,0,0)' }, data: lab,
      markLine: { silent: true, symbol: ['none', 'none'], label: { show: false }, animation: false, data: mlData, z: 4 }
    });

    graphic.push({ type: 'rect', z: 10, shape: { x: left, y: 99 + ROW_STEP * r, width: width, height: 35 },
      style: { fill: '#fff', stroke: '#1a1a1a', lineWidth: 1.4 } });
    graphic.push({ type: 'text', z: 11, x: left + width / 2, y: 117 + ROW_STEP * r,
      style: { text: site, font: '23px ' + FONT, fill: '#1a1a1a', textAlign: 'center', textVerticalAlign: 'middle' } });
  }
  graphic.push({ type: 'text', z: 11, x: 698, y: 70 + ROW_STEP * r,
    style: { text: depths[r], font: '33px ' + FONT, fill: '#000', textAlign: 'center', textVerticalAlign: 'middle' } });
  graphic.push({ type: 'text', z: 11, x: 28, y: 198 + ROW_STEP * r, rotation: Math.PI / 2,
    style: { text: '\u0394Soil temperature (\u00b0C)', font: '29px ' + FONT, fill: '#000', textAlign: 'center', textVerticalAlign: 'middle' } });
  graphic.push({ type: 'rect', z: 12, shape: { x: 693, y: 136 + ROW_STEP * r, width: 8.3, height: 18 },
    style: { fill: '#fff' } });
}

const chart = echarts.init(document.getElementById('chart'), null, { renderer: 'canvas' });
chart.setOption({
  backgroundColor: '#fff',
  animation: false,
  legend: {
    data: ['NT', 'NTM'], top: 9, left: 582, icon: 'circle', itemWidth: 22, itemHeight: 7, itemGap: 20,
    textStyle: { fontSize: 22, color: '#000', fontFamily: FONT }
  },
  grid: grid, xAxis: xAxis, yAxis: yAxis, series: series, graphic: graphic
});
</script>
</body>
</html>
